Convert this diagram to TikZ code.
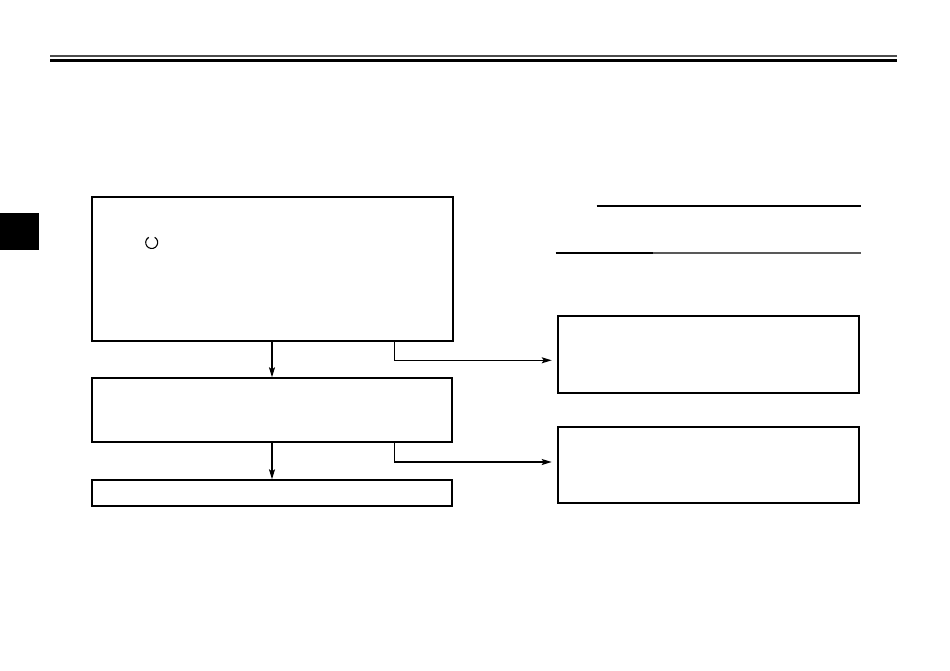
\documentclass[tikz,border=0pt]{standalone}
\usetikzlibrary{arrows.meta}
\begin{document}
\begin{tikzpicture}[x=1pt,y=-1pt,
  box/.style={draw=black,line width=2pt,inner sep=0pt,rectangle},
  conn/.style={draw=black,line width=1.2pt},
  arr/.style={conn,-{Stealth[length=10pt,width=6pt,inset=2pt]}},
  rule/.style={line width=1.3pt}]
\useasboundingbox (0,0) rectangle (950,671);
% header rules
\draw[line width=2pt,draw=black!70] (50,56) -- (897,56);
\draw[line width=3pt,draw=black] (50,60.3) -- (897,60.3);
% side tab
\fill[black] (0,213) rectangle (39,250);
% boxes
\node[box,minimum width=361pt,minimum height=143.5pt] (b1) at (272,269.25) {};
\node[box,minimum width=360pt,minimum height=64pt] (b2) at (272,410.3) {};
\node[box,minimum width=360pt,minimum height=25.4pt] (b3) at (272,493) {};
\node[box,minimum width=301.3pt,minimum height=76.7pt] (r1) at (708.3,354.3) {};
\node[box,minimum width=301.3pt,minimum height=76.3pt] (r2) at (708.3,465.2) {};
% circle symbol
\draw[line width=1.1pt] (151.7,242.5) ++(-60:6) arc[start angle=-60,end angle=240,radius=6];
% connectors
\draw[arr] (b1.south) -- (b2.north);
\draw[arr] (b2.south) -- (b3.north);
\coordinate (t1) at (394.3,0);
\coordinate (a1) at (551.7,360.3);
\coordinate (a2) at (551.7,462);
\draw[arr] (b1.south -| t1) |- (a1);
\draw[arr] (b2.south -| t1) |- (a2);
% right rules
\draw[rule] (596.7,206) -- (860.7,206);
\draw[rule] (555.7,253) -- (652.7,253);
\draw[rule,draw=black!65] (652.7,253) -- (860.7,253);
\end{tikzpicture}
\end{document}
